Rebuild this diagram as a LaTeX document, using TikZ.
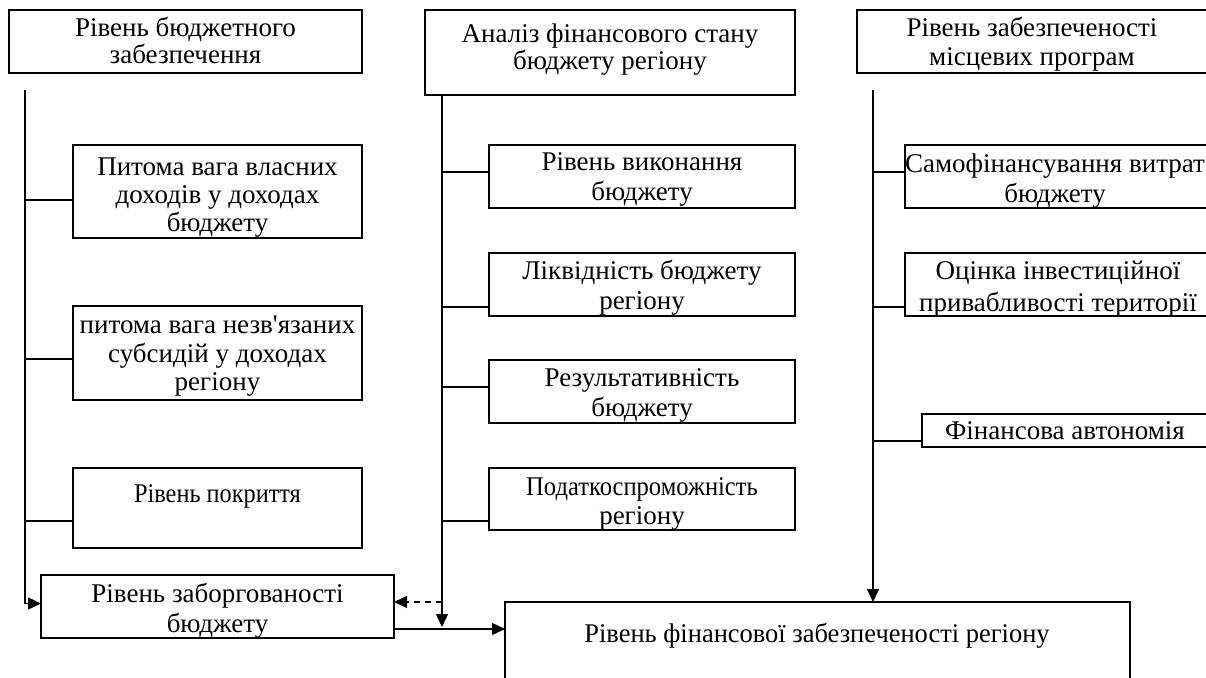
\documentclass[tikz,border=0pt]{standalone}
\usepackage{fontspec}
\usepackage{graphicx}
\setmainfont{Liberation Serif}
\usetikzlibrary{arrows.meta,calc}
\newcommand\mkbox[5]{\node[boxst, minimum width=#4pt, minimum height=#5pt] (#1) at (#2,#3) {};}
\newcommand\topstrt{\rule{0pt}{20pt}}
\begin{document}
\begin{tikzpicture}[x=1pt,y=-1pt, line width=1.4pt,
  boxst/.style={draw, rectangle, inner sep=0pt, outer sep=0pt, anchor=north west},
  txt/.style={align=center, inner sep=0pt, anchor=north, font=\fontsize{27}{#1}\selectfont},
  txt/.default=27,
  arr/.style={-{Triangle[length=13pt,width=12pt]}},
  dsh/.style={dash pattern=on 6pt off 5pt}]
\lineskiplimit=-50pt
\useasboundingbox (0,0) rectangle (1206,677);
\clip (0,0) rectangle (1206,677);
% left column
\mkbox{b1}{9}{10}{353}{63}
\node[txt=27] (t1) at (185.5,16) {\topstrt Рівень бюджетного\\забезпечення};
\mkbox{p1}{73}{145}{289}{93}
\node[txt=28] (tp1) at (217.5,155) {\topstrt Питома вага власних\\доходів у доходах\\бюджету};
\mkbox{p2}{73}{306}{289}{94}
\node[txt=28.5] (tp2) at (217.5,313) {\topstrt питома вага незв\textquotesingle язаних\\субсидій у доходах\\регіону};
\mkbox{p3}{73}{468}{289}{80}
\node[txt] (tp3) at (217.5,482) {\topstrt\scalebox{0.9}[1]{Рівень покриття}};
\mkbox{zab}{41}{575}{353}{63}
\node[txt=30] (tzab) at (217.5,582) {\topstrt Рівень заборгованості\\бюджету};
% middle column
\mkbox{an}{425}{10}{370}{85}
\node[txt=27] (tan) at (610,22) {\topstrt Аналіз фінансового стану\\бюджету регіону};
\mkbox{m1}{489}{145}{306}{63}
\node[txt=30] (tm1) at (642,150) {\topstrt Рівень виконання\\бюджету};
\mkbox{m2}{489}{253}{306}{63}
\node[txt=29.5] (tm2) at (642,259) {\topstrt Ліквідність бюджету\\регіону};
\mkbox{m3}{489}{360}{306}{63}
\node[txt=30] (tm3) at (642,366) {\topstrt Результативність\\бюджету};
\mkbox{m4}{489}{468}{306}{62}
\node[txt=29] (tm4) at (642,475) {\topstrt\scalebox{0.91}[1]{Податкоспроможність}\\регіону};
% right column
\mkbox{r0}{857}{10}{380}{63}
\node[txt=28.5] (tr0) at (1032,16) {\topstrt Рівень забезпеченості\\місцевих програм};
\mkbox{r1}{905}{145}{330}{63}
\node[txt=30] (tr1) at (1055,152) {\topstrt Самофінансування витрат\\бюджету};
\mkbox{r2}{905}{253}{330}{63}
\node[txt=32] (tr2) at (1058,259) {\topstrt Оцінка інвестиційної\\привабливості території};
\mkbox{r3}{922}{414}{310}{33}
\node[txt] (tr3) at (1065,419) {\topstrt Фінансова автономія};
% result
\mkbox{fin}{505}{602}{625}{120}
\node[txt] (tfin) at (817,622) {\topstrt\scalebox{0.98}[1]{Рівень фінансової забезпеченості регіону}};
% connectors: left
\coordinate (L0) at (25,90);
\draw[arr] (L0) |- ([yshift=3]zab.west);
\draw (L0 |- 0,200) -- ([yshift=-8.5]p1.west);
\draw (L0 |- 0,359) -- ([yshift=-6]p2.west);
\draw (L0 |- 0,521) -- ([yshift=-13]p3.west);
% connectors: middle
\coordinate (M0) at ([xshift=17]an.south west);
\coordinate (J) at (M0 |- 0,629);
\draw[arr] (M0) -- ([yshift=2]J);
\draw (M0 |- 0,172) -- ([yshift=4.5]m1.west);
\draw (M0 |- 0,307) -- ([yshift=-22.5]m2.west);
\draw (M0 |- 0,387) -- ([yshift=4.5]m3.west);
\draw (M0 |- 0,521) -- ([yshift=-22]m4.west);
\draw[arr, dsh] (M0 |- 0,602) -- (zab.east |- 0,602);
\draw[arr] (zab.east |- 0,629) -- (fin.west |- 0,629);
% connectors: right
\coordinate (R0) at (873,90);
\draw[arr] (R0) -- (R0 |- fin.north);
\draw (R0 |- 0,172) -- ([yshift=4.5]r1.west);
\draw (R0 |- 0,307) -- ([yshift=-22.5]r2.west);
\draw (R0 |- 0,441) -- ([yshift=-10.5]r3.west);
\end{tikzpicture}
\end{document}
